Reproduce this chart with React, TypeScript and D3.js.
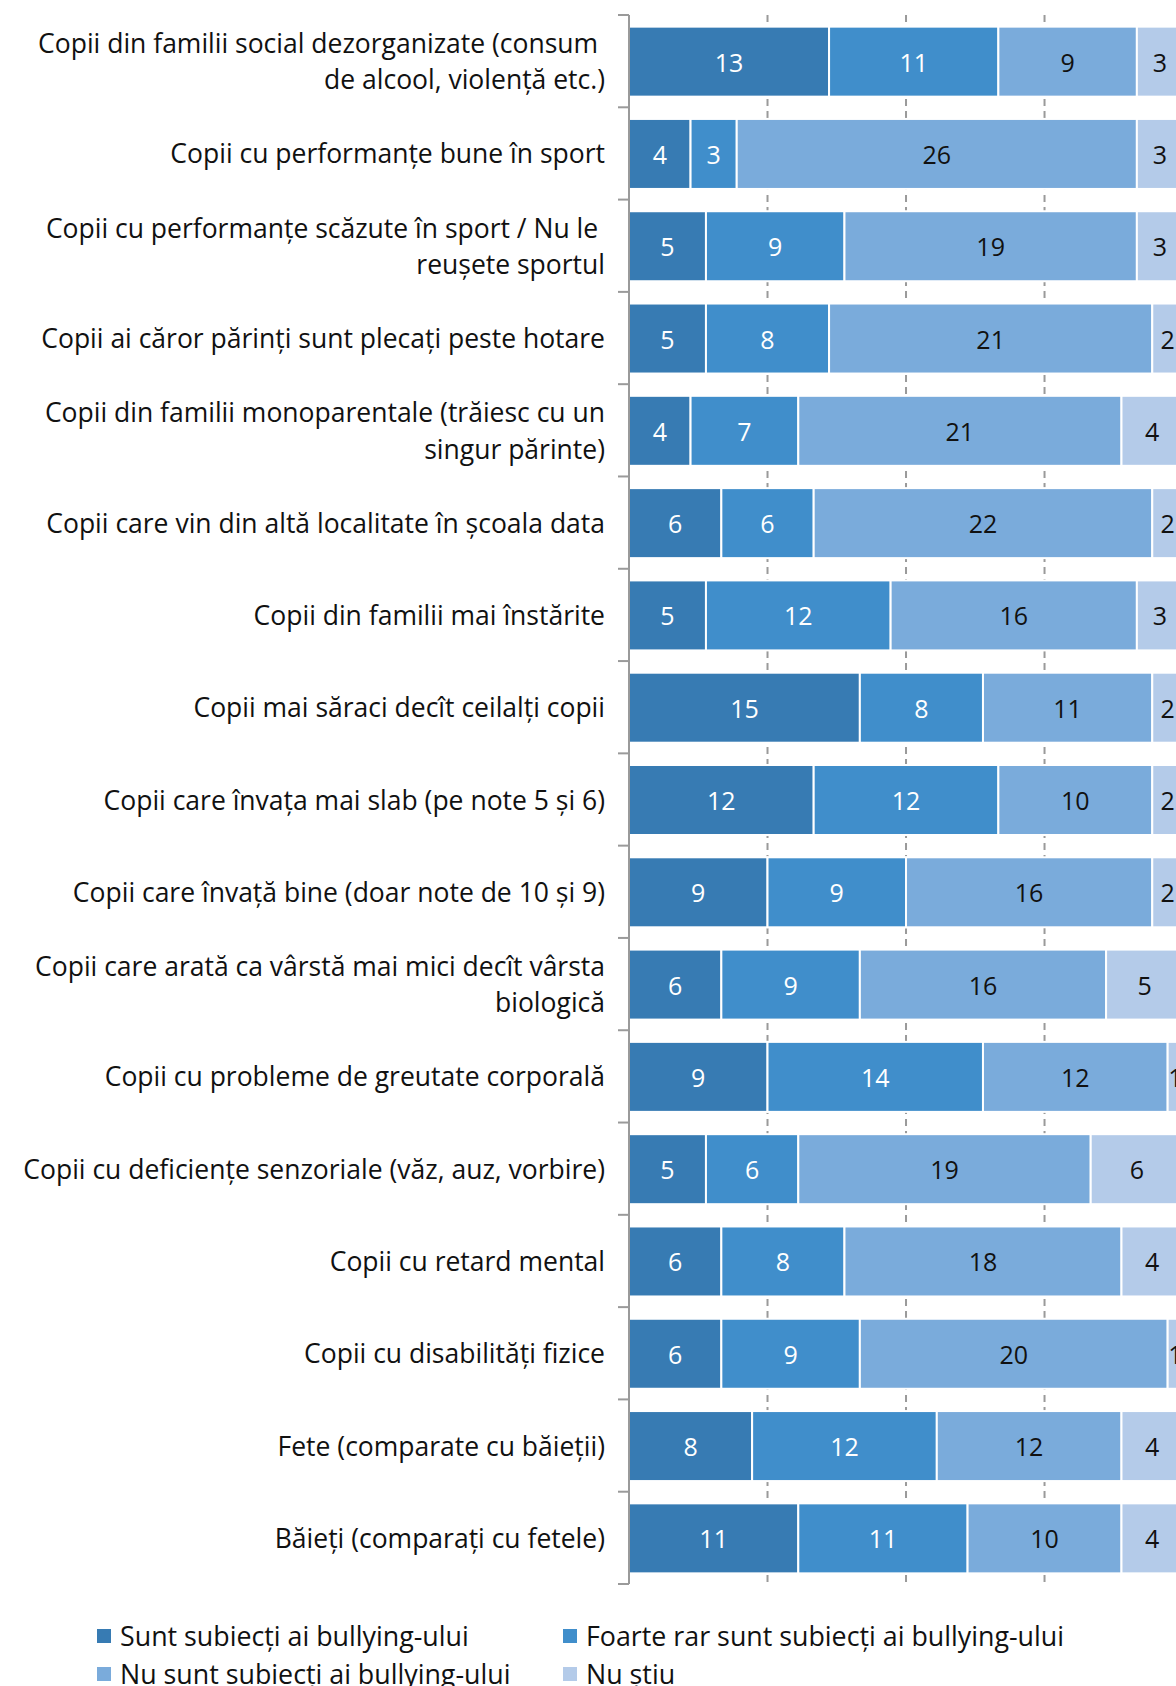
import React from "react";
import * as d3 from "d3";

const categories: string[][] = [
  ["Copii din familii social dezorganizate (consum\u00a0", "de alcool, violență etc.)"],
  ["Copii cu performanțe bune în sport"],
  ["Copii cu performanțe scăzute în sport / Nu le\u00a0", "reușete sportul"],
  ["Copii ai căror părinți sunt plecați peste hotare"],
  ["Copii din familii monoparentale (trăiesc cu un", "singur părinte)"],
  ["Copii care vin din altă localitate în școala data"],
  ["Copii din familii mai înstărite"],
  ["Copii mai săraci decît ceilalți copii"],
  ["Copii care învața mai slab (pe note 5 și 6)"],
  ["Copii care învață bine (doar note de 10 și 9)"],
  ["Copii care arată ca vârstă mai mici decît vârsta", "biologică"],
  ["Copii cu probleme de greutate corporală"],
  ["Copii cu deficiențe senzoriale (văz, auz, vorbire)"],
  ["Copii cu retard mental"],
  ["Copii cu disabilități fizice"],
  ["Fete (comparate cu băieții)"],
  ["Băieți (comparați cu fetele)"],
];

const sunt = [13, 4, 5, 5, 4, 6, 5, 15, 12, 9, 6, 9, 5, 6, 6, 8, 11];
const foarteRar = [11, 3, 9, 8, 7, 6, 12, 8, 12, 9, 9, 14, 6, 8, 9, 12, 11];
const nuSunt = [9, 26, 19, 21, 21, 22, 16, 11, 10, 16, 16, 12, 19, 18, 20, 12, 10];
const nuStiu = [3, 3, 3, 2, 4, 2, 3, 2, 2, 2, 5, 1, 6, 4, 1, 4, 4];

const seriesNames = [
  "Sunt subiecți ai bullying-ului",
  "Foarte rar sunt subiecți ai bullying-ului",
  "Nu sunt subiecți ai bullying-ului",
  "Nu știu",
];
const seriesColors = ["#377bb3", "#408ecb", "#7aabdb", "#b4cbe9"];
const labelColors = ["#ffffff", "#ffffff", "#111111", "#111111"];
const gridTicks = [9, 18, 27, 36];

const W = 1176;
const H = 1686;
const FONT = "'Open Sans', 'Noto Sans', sans-serif";

export default function App() {
  const seriesValues = [sunt, foarteRar, nuSunt, nuStiu];
  const idx = categories.map((_, i) => String(i));
  const y = d3.scaleBand<string>().domain(idx).range([15, 1584]).padding(0);
  const x = d3.scaleLinear().domain([0, 36]).range([629, 629 + 36 * 15.39]);
  const barH = 70;
  const rows = categories.map((c, i) => {
    const vals = seriesValues.map((s) => s[i]);
    const stacks: { x0: number; x1: number; v: number; s: number }[] = [];
    let acc = 0;
    vals.forEach((v, s) => {
      stacks.push({ x0: acc, x1: acc + v, v, s });
      acc += v;
    });
    return { c, i, stacks };
  });
  const [y0, y1] = y.range();
  const step = y.step();

  return (
    <svg
      width={W}
      height={H}
      style={{ position: "absolute", left: 0, top: 0, background: "#fff" }}
      fontFamily={FONT}
    >
      {gridTicks.map((t) => (
        <line
          key={t}
          x1={x(t)}
          x2={x(t)}
          y1={y0}
          y2={y1}
          stroke="#9a9a9a"
          strokeWidth={2}
          strokeDasharray="7,5"
        />
      ))}
      {rows.map((r) => {
        const cy = (y(String(r.i)) as number) + step / 2 + 0.5;
        return (
          <g key={r.i}>
            {r.stacks.map((st) => (
              <g key={st.s}>
                <rect
                  x={x(st.x0)}
                  y={cy - barH / 2}
                  width={x(st.x1) - x(st.x0)}
                  height={barH}
                  fill={seriesColors[st.s]}
                  stroke="#ffffff"
                  strokeWidth={2}
                />
                <text
                  x={(x(st.x0) + x(st.x1)) / 2}
                  y={cy + 1}
                  dy="0.36em"
                  textAnchor="middle"
                  fontSize={25}
                  fill={labelColors[st.s]}
                >
                  {st.v}
                </text>
              </g>
            ))}
            {r.c.map((line, li) => (
              <text
                key={li}
                x={605}
                y={cy + (li - (r.c.length - 1) / 2) * 36.5}
                dy="0.36em"
                textAnchor="end"
                fontSize={26.5}
                fill="#111"
                style={{ whiteSpace: "pre" }}
              >
                {line}
              </text>
            ))}
          </g>
        );
      })}
      <line x1={x(0)} x2={x(0)} y1={y0} y2={y1} stroke="#9a9a9a" strokeWidth={2} />
      {d3.range(categories.length + 1).map((k) => (
        <line
          key={k}
          x1={x(0) - 11}
          x2={x(0)}
          y1={y0 + k * step}
          y2={y0 + k * step}
          stroke="#9a9a9a"
          strokeWidth={2}
        />
      ))}
      {seriesNames.map((n, s) => {
        const col = s % 2;
        const row = Math.floor(s / 2);
        const lx = col === 0 ? 97 : 563;
        const ly = 1636 + row * 38;
        return (
          <g key={n}>
            <rect x={lx} y={ly - 7} width={14} height={14} fill={seriesColors[s]} />
            <text x={lx + 23} y={ly} dy="0.36em" fontSize={26.8} fill="#111">
              {n}
            </text>
          </g>
        );
      })}
    </svg>
  );
}
